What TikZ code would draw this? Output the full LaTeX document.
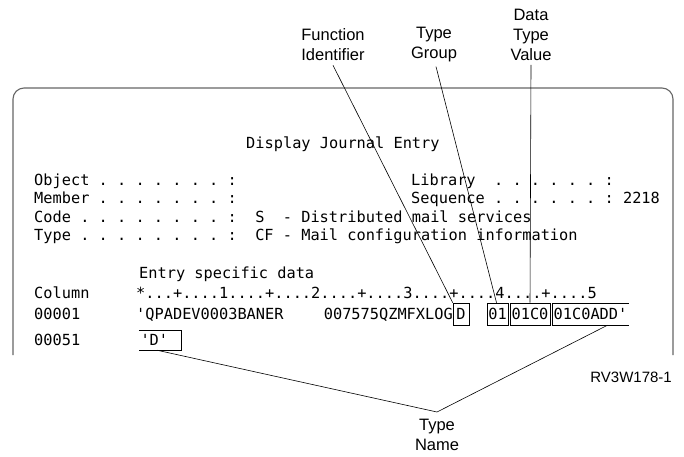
\documentclass[tikz,border=0pt]{standalone}
\usepackage{fontspec}
\setmainfont{Liberation Sans}
\setmonofont{DejaVu Sans Mono}
\usetikzlibrary{positioning}
\tikzset{
  screenText/.style={font=\ttfamily\fontsize{15.3}{18}\selectfont, inner sep=0pt},
  fieldBox/.style={screenText, draw, line width=0.6pt, inner xsep=1.4pt, minimum height=22pt},
  openBox/.style={screenText, inner xsep=1.4pt, minimum height=22pt},
  callout/.style={font=\fontsize{16.5}{20}\selectfont, align=center, inner sep=0pt},
  leader/.style={line width=0.6pt},
  frameLine/.style={draw=black!60, line width=1.1pt, rounded corners=11pt}
}
\begin{document}
\begin{tikzpicture}[x=1pt, y=-1pt]
  \useasboundingbox (0,0) rectangle (684,456);
  % screen frame, open at the bottom
  \draw[frameLine] (13,355) -- (13,88) -- (673,88) -- (673,355);
  % screen text
  \node[screenText, anchor=base west] (title) at (246,148) {Display Journal Entry};
  \node[screenText, anchor=base west] (obj) at (34,185) {Object . . . . . . . :};
  \node[screenText, anchor=base west] (mbr) at (34,203) {Member . . . . . . . :};
  \node[screenText, anchor=base west] (code) at (34,222) {Code . . . . . . . . :~~S~~- Distributed mail services};
  \node[screenText, anchor=base west] (type) at (34,240) {Type . . . . . . . . :~~CF - Mail configuration information};
  \node[screenText, anchor=base west] (lib) at (411,185) {Library~~. . . . . . :};
  \node[screenText, anchor=base west] (seq) at (411,203) {Sequence . . . . . . : 2218};
  \node[screenText, anchor=base west] (esd) at (139,278) {Entry specific data};
  \node[screenText, anchor=base west] (col) at (34,298) {Column};
  \node[screenText, anchor=base west] (ruler) at (136,298) {*...+....1....+....2....+....3....+....4....+....5};
  \node[screenText, anchor=base west] (row1) at (34,319) {00001};
  \node[screenText, anchor=base west] (row51) at (34,345) {00051};
  % entry specific data, row 00001
  \node[screenText, anchor=base west] (dataA) at (136,319) {'QPADEV0003BANER};
  \node[screenText, anchor=base east] (dataB) at (453,319) {007575QZMFXLOG};
  \node[fieldBox, minimum width=16pt] (funcId) at (461,314) {D};
  \node[fieldBox] (typeGrp) at (497.5,314) {01};
  \node[fieldBox] (dataVal) at (530,314) {01C0};
  \node[openBox] (typeNmA) at (590.5,314) {01C0ADD'};
  \draw[leader] (typeNmA.north east) -- (typeNmA.north west) -- (typeNmA.south west) -- (typeNmA.south east);
  % row 00051
  \node[openBox, text width=39pt, minimum height=20pt] (typeNmB) at (160,340) {'D'};
  \draw[leader] (typeNmB.north west) -- (typeNmB.north east) -- (typeNmB.south east) -- (typeNmB.south west);
  % callouts
  \node[callout] (lblFunc) at (333,45) {Function\\Identifier};
  \node[callout] (lblGrp) at (434,45) {Type\\Group};
  \node[callout] (lblVal) at (531,35) {Data\\Type\\Value};
  \node[callout] (lblName) at (437,435) {Type\\Name};
  \node[font=\fontsize{15}{18}\selectfont, anchor=east, inner sep=0pt] (figId) at (672,377) {RV3W178-1};
  \draw[leader] (lblFunc.south) ++(0,4) coordinate (fTop) (fTop) -- (funcId.north west);
  \draw[leader] (lblGrp.south) ++(2,4) coordinate (gTop) (gTop) -- ([xshift=-1pt]typeGrp.north);
  \draw[leader] (lblVal.south) ++(0,4) coordinate (vTop) (vTop) -- (dataVal.north);
  \coordinate (apex) at (437,412);
  \draw[leader] ([xshift=-3pt]typeNmB.south) -- (apex) -- ([xshift=17pt]typeNmA.south);
\end{tikzpicture}
\end{document}
